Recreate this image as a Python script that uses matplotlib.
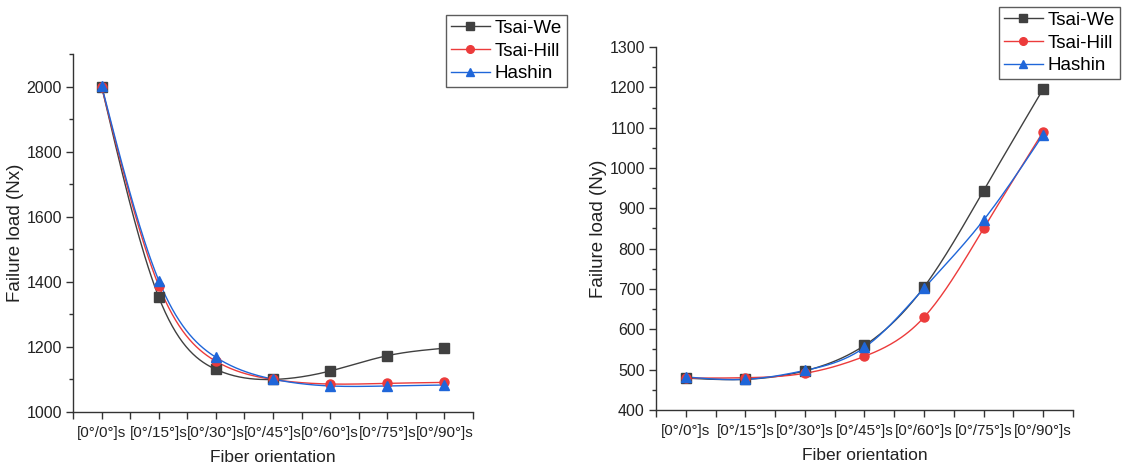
import numpy as np
import matplotlib
matplotlib.use("Agg")
import matplotlib.pyplot as plt
from matplotlib.ticker import MultipleLocator

plt.rcParams['font.family'] = ['Liberation Sans', 'DejaVu Sans']

# Laminate layups on the x axis
layups = ["[0°/0°]s", "[0°/15°]s", "[0°/30°]s", "[0°/45°]s",
          "[0°/60°]s", "[0°/75°]s", "[0°/90°]s"]

# Failure load Nx
nx_tsai_wu = [2000, 1353, 1131, 1100, 1126, 1173, 1196]
nx_tsai_hill = [2000, 1388, 1156, 1100, 1086, 1088, 1091]
nx_hashin = [2003, 1404, 1168, 1101, 1080, 1080, 1083]

# Failure load Ny
ny_tsai_wu = [479, 476, 497, 560, 705, 944, 1196]
ny_tsai_hill = [479, 480, 491, 533, 630, 850, 1090]
ny_hashin = [482, 476, 498, 555, 702, 871, 1083]

series_names = ["Tsai-We", "Tsai-Hill", "Hashin"]
colors = ["#404040", "#ec3b3b", "#1f66d9"]
markers = ["s", "o", "^"]


def natural_spline(y, n=200):
    """Natural cubic spline through equally spaced points."""
    y = np.asarray(y, dtype=float)
    m = len(y)
    A = np.zeros((m, m))
    b = np.zeros(m)
    A[0, 0] = A[-1, -1] = 1.0
    for i in range(1, m - 1):
        A[i, i - 1], A[i, i], A[i, i + 1] = 1.0, 4.0, 1.0
        b[i] = 6.0 * (y[i + 1] - 2 * y[i] + y[i - 1])
    M = np.linalg.solve(A, b)
    xs = np.linspace(0, m - 1, n)
    idx = np.clip(np.floor(xs).astype(int), 0, m - 2)
    t = xs - idx
    ys = ((1 - t) * y[idx] + t * y[idx + 1]
          + ((1 - t) ** 3 - (1 - t)) * M[idx] / 6.0
          + (t ** 3 - t) * M[idx + 1] / 6.0)
    return xs, ys


fig = plt.figure(figsize=(11.45, 4.72), dpi=100)
ax1 = fig.add_axes([0.0638, 0.1271, 0.3493, 0.7585])
ax2 = fig.add_axes([0.5729, 0.1314, 0.3642, 0.7690])


def draw(ax, data, ylim, major, ylabel, legend_anchor):
    x = np.arange(len(layups))
    handles = []
    for vals, name, c, mk in zip(data, series_names, colors, markers):
        xs, ys = natural_spline(vals)
        ax.plot(xs, ys, color=c, lw=1.0, zorder=2)
        ax.plot(x, vals, ls="none", marker=mk, ms=6.5, color=c, zorder=3)
        h, = ax.plot([], [], color=c, lw=1.0, marker=mk, ms=5.5)
        handles.append(h)
    ax.set_xlim(-0.5, len(layups) - 0.5)
    ax.set_ylim(*ylim)
    ax.set_xticks(x)
    ax.set_xticklabels(layups, fontsize=11)
    ax.xaxis.set_minor_locator(MultipleLocator(0.5))
    ax.yaxis.set_major_locator(MultipleLocator(major))
    ax.yaxis.set_minor_locator(MultipleLocator(major / 2))
    for s in ("top", "right"):
        ax.spines[s].set_visible(False)
    for s in ("left", "bottom"):
        ax.spines[s].set_color("#333333")
        ax.spines[s].set_linewidth(1.0)
    ax.tick_params(which="major", direction="out", length=5, width=1.0,
                   colors="#333333", labelcolor="#222222")
    ax.tick_params(axis="y", which="major", labelsize=11.5, pad=3)
    ax.tick_params(which="minor", direction="out", length=3, width=1.0,
                   colors="#333333")
    ax.tick_params(axis="x", which="minor", length=5)
    ax.tick_params(axis="x", pad=5)
    ax.set_xlabel("Fiber orientation", fontsize=12.5, color="#222222", labelpad=7)
    ax.set_ylabel(ylabel, fontsize=13.5, color="#222222", labelpad=2)
    leg = ax.legend(handles, series_names, loc="upper left",
                    bbox_to_anchor=legend_anchor, bbox_transform=fig.transFigure,
                    fontsize=13.5, frameon=True, fancybox=False,
                    borderpad=0.25, labelspacing=0.3, handlelength=2.1,
                    handletextpad=0.25, borderaxespad=0)
    leg.get_frame().set_edgecolor("#333333")
    leg.get_frame().set_linewidth(1.0)


draw(ax1, [nx_tsai_wu, nx_tsai_hill, nx_hashin], (1000, 2100), 200,
     "Failure load (Nx)", (446 / 1145, 1 - 15 / 472))
draw(ax2, [ny_tsai_wu, ny_tsai_hill, ny_hashin], (400, 1300), 100,
     "Failure load (Ny)", (999 / 1145, 1 - 7 / 472))

fig.savefig("out.png", dpi=100)
